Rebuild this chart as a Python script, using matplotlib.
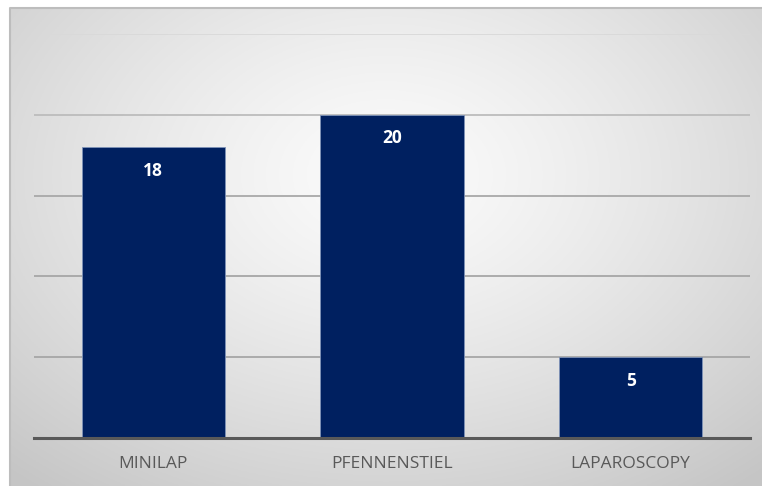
import matplotlib
import matplotlib.pyplot as plt
import numpy as np
from matplotlib.lines import Line2D

categories = ["MINILAP", "PFENNENSTIEL", "LAPAROSCOPY"]
values = [18, 20, 5]
yticks = [0, 5, 10, 15, 20, 25]

W, H = 762, 486
fig = plt.figure(figsize=(W / 100, H / 100), dpi=100)
fig.patch.set_facecolor("white")

# chart area with radial grey gradient
x0, y1 = 10 / W, (H - 8) / H
bg = fig.add_axes([x0, 0, 1 - x0, y1], zorder=0)
nx, ny = 400, 260
gx, gy = np.meshgrid(np.linspace(-1, 1, nx), np.linspace(-1, 1, ny))
r = np.sqrt(gx**2 + ((gy + 0.3) * 0.9) ** 2)
shade = 0.985 - 0.21 * np.clip(r / 1.5, 0, 1) ** 1.3
bg.imshow(np.dstack([shade] * 3), aspect="auto", origin="upper", extent=[0, 1, 0, 1])
bg.set_xlim(0, 1)
bg.set_ylim(0, 1)
bg.axis("off")
# border only on top and left, chart runs off the image on the other sides
fig.add_artist(Line2D([x0, x0, 1], [0, y1, y1], transform=fig.transFigure,
                      color="#bdbdbd", linewidth=1.5, zorder=1))

ax = fig.add_axes([34 / W, 48 / H, 716 / W, 404 / H], zorder=2)
ax.patch.set_alpha(0)

grid_colors = ["#595959", "#a6a6a6", "#a6a6a6", "#a8a8a8", "#bcbcbc", "#d9d9d9"]
for t, c in zip(yticks[1:], grid_colors[1:]):
    ax.axhline(t, color=c, linewidth=1.3, zorder=1)

x = np.arange(len(categories))
ax.bar(x, values, width=0.6, color="#002060", edgecolor="#7f93b8", linewidth=0.6, zorder=3)
for xi, v in zip(x, values):
    ax.annotate(str(v), xy=(xi, v), xytext=(0, -17), textcoords="offset points",
                ha="center", va="center", color="white", fontsize=12.5, fontweight="bold",
                family="Open Sans", zorder=4)

ax.set_xlim(-0.5, len(categories) - 0.5)
ax.set_ylim(0, 25)
ax.set_yticks([])
ax.set_xticks(x)
ax.set_xticklabels(categories, color="#595959", fontsize=12.5, family="Open Sans")
ax.tick_params(axis="x", length=0, pad=13)
for side in ["top", "right", "left"]:
    ax.spines[side].set_visible(False)
ax.spines["bottom"].set_color("#595959")
ax.spines["bottom"].set_linewidth(2.2)
ax.spines["bottom"].set_zorder(5)

fig.savefig("out.png", dpi=100)
